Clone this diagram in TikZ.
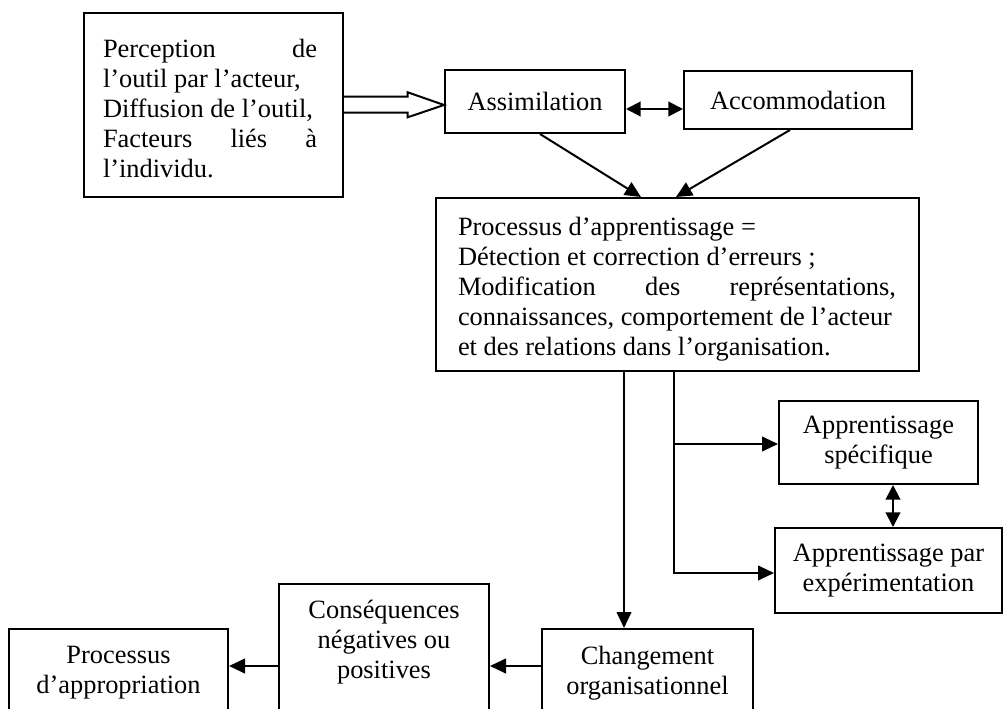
\documentclass[tikz,border=0pt]{standalone}
\usepackage{fontspec}
\setmainfont{Liberation Serif}
\usetikzlibrary{arrows.meta,calc}
\begin{document}
\begin{tikzpicture}[x=0.75pt,y=-0.75pt,
  every node/.style={font=\fontsize{19.8}{22.5}\selectfont},
  box/.style={draw, line width=1.5pt, inner sep=0pt, align=center},
  txt/.style={inner sep=0pt, align=center},
  ltxt/.style={inner sep=0pt, align=left},
  con/.style={line width=1.5pt, -{Triangle[length=12pt,width=11pt]}},
  dcon/.style={line width=1.5pt, {Triangle[length=11pt,width=11pt]}-{Triangle[length=11pt,width=11pt]}},
  hollow/.style={line width=1.5pt, fill=white, line join=miter},
]
\clip (0,0) rectangle (1003,709);
\fill[white] (0,0) rectangle (1003,709);

% boxes
\node[box, minimum width=194.25pt, minimum height=138pt] (perc) at (213.5,105) {};
\node[ltxt] (percText) at (210,109)
  {\makebox[160.5pt][s]{Perception de}\\
   l’outil par l’acteur,\\
   Diffusion de l’outil,\\
   \makebox[160.5pt][s]{Facteurs liés à}\\
   l’individu.};
\node[box, minimum width=135pt, minimum height=47.25pt] (assim) at (535,101.5) {Assimilation};
\node[box, minimum width=171pt, minimum height=43.5pt] (accom) at (798,100) {Accommodation};
\node[box, minimum width=362.25pt, minimum height=129.75pt] (proc) at (677.5,284.5) {};
\node[ltxt] (procText) at (677,289)
  {Processus d’apprentissage =\\
   Détection et correction d’erreurs ;\\
   \makebox[328.5pt][s]{Modification des représentations,}\\
   connaissances, comportement de l’acteur\\
   et des relations dans l’organisation.};
\node[box, minimum width=149.25pt, minimum height=62.25pt] (spec) at (878.5,442.5) {Apprentissage\\spécifique};
\node[box, minimum width=170.25pt, minimum height=63.75pt] (exper) at (888.5,570.5) {Apprentissage par\\expérimentation};
\node[box, minimum width=158.25pt, minimum height=66pt] (chang) at (647.5,673) {Changement\\organisationnel};
\node[box, minimum width=157.5pt, minimum height=102pt] (cons) at (384,652) {};
\node[txt] (consText) at (384,642) {Conséquences\\négatives ou\\positives};
\node[box, minimum width=164.25pt, minimum height=66pt] (appro) at (118.5,673) {Processus\\d’appropriation};

% hollow arrow
\coordinate (tip) at (assim.west |- perc.east);
\draw[hollow] ($(perc.east)+(0,-8.3)$) -- ++(63.7,0) -- ++(0,-4.4) -- (tip)
  -- ($(perc.east)+(63.7,12.3)$) -- ++(0,-4.6) -- ($(perc.east)+(0,7.7)$);

% double arrow assimilation - accommodation
\draw[dcon] ($(assim.east)+(0,7.5)$) -- ($(accom.west)+(0,9)$);

% arrows to process
\draw[con] ($(assim.south)+(5,0)$) -- ($(proc.north west)+(206,0)$);
\draw[con] ($(accom.south)+(-8,0)$) -- ($(proc.north west)+(241,0)$);

% process down
\coordinate (p1) at ($(proc.south west)+(189,0)$);
\draw[con] (p1) -- (p1 |- chang.north);
\coordinate (p2) at ($(proc.south west)+(239,0)$);
\coordinate (e1) at ($(exper.west)+(0,2.5)$);
\coordinate (s1) at ($(spec.west)+(0,1.5)$);
\draw[con] (p2) |- (e1);
\draw[con] (p2 |- s1) -- (s1);

% spec <-> exper
\coordinate (d1) at ($(spec.south)+(14.5,0)$);
\draw[dcon] (d1) -- (d1 |- exper.north);

% bottom chain
\coordinate (c1) at ($(chang.west)+(0,-7)$);
\draw[con] (c1) -- (c1 -| cons.east);
\coordinate (c2) at (c1 -| cons.west);
\draw[con] (c2) -- (c2 -| appro.east);
\end{tikzpicture}
\end{document}
